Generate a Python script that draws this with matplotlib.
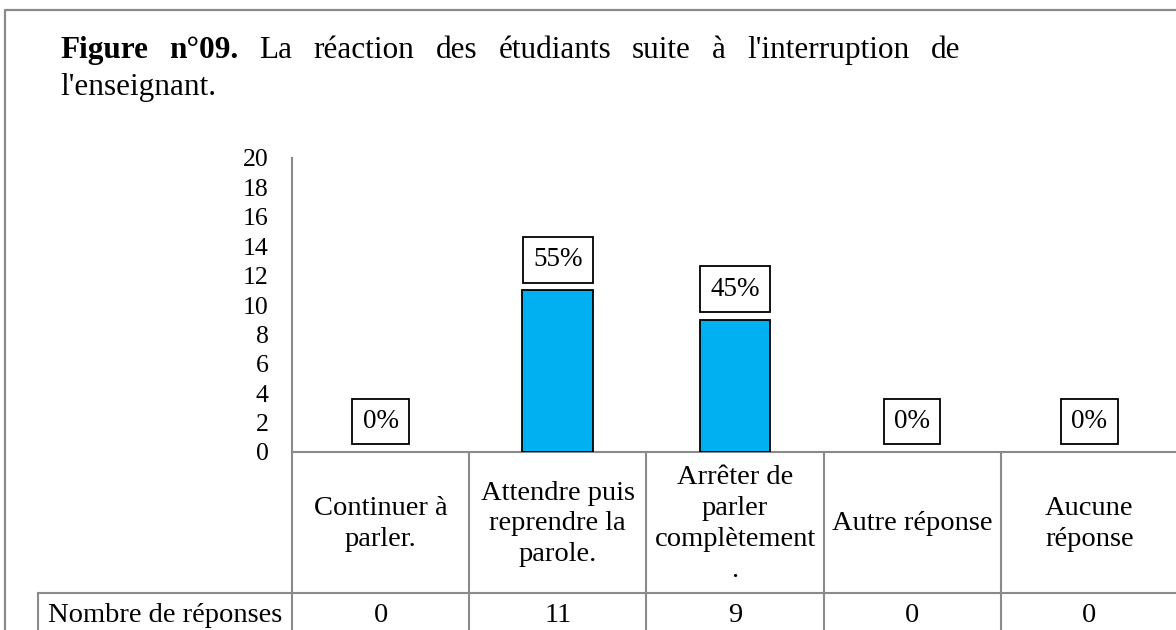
import numpy as np
import matplotlib.pyplot as plt
from matplotlib.lines import Line2D

plt.rcParams['font.family'] = ['Liberation Serif', 'DejaVu Serif']

categories = ["Continuer à\nparler.", "Attendre puis\nreprendre la\nparole.",
              "Arrêter de\nparler\ncomplètement\n.", "Autre réponse", "Aucune\nréponse"]
responses = [0, 11, 9, 0, 0]
percents = ["0%", "55%", "45%", "0%", "0%"]
row_label = "Nombre de réponses"
yticks = list(range(0, 21, 2))

W, H = 1176, 630
fig = plt.figure(figsize=(W / 100, H / 100), dpi=100)

# pixel layout of the plot area
x0, x1 = 292, 1178
y_top, y_zero = 158, 452
y_row, y_bot = 593, 630


def fx(x):
    return x / W


def fy(y):
    return 1 - y / H


def ay(y):
    # pixel row -> axes fraction
    return (y_zero - y) / (y_zero - y_top)


ax = fig.add_axes([fx(x0), fy(y_zero), fx(x1) - fx(x0), fy(y_top) - fy(y_zero)])
n = len(categories)
xpos = np.arange(n)
edges = ["black" if v > 0 else "none" for v in responses]
ax.bar(xpos, responses, width=0.4, color="#00B0F0", edgecolor=edges, linewidth=1.3, zorder=3)
ax.set_xlim(-0.5, n - 0.5)
ax.set_ylim(0, 20)
ax.set_yticks(yticks)
ax.set_xticks([])
ax.tick_params(axis="y", length=0, pad=17, labelsize=18.5)
for s in ["top", "right"]:
    ax.spines[s].set_visible(False)
gray = "#8a8a8a"
ax.spines["left"].set_color(gray)
ax.spines["bottom"].set_color(gray)
ax.spines["left"].set_linewidth(1.5)
ax.spines["bottom"].set_linewidth(1.5)

# percentage labels in boxes
for i, (v, p) in enumerate(zip(responses, percents)):
    ax.annotate(p, (i, v), xytext=(0, 18), textcoords="offset pixels",
                ha="center", va="bottom", fontsize=19.5, zorder=4,
                bbox=dict(boxstyle="square,pad=0.38", fc="white", ec="black", lw=1.3))

# data table under the axis
tr = ax.get_xaxis_transform()
for k in range(n + 1):
    ax.add_line(Line2D([k - 0.5, k - 0.5], [0, ay(y_bot)], transform=tr, color=gray,
                       lw=1.5, clip_on=False))
fig.add_artist(Line2D([fx(38), 1], [fy(y_row), fy(y_row)], color=gray, lw=1.5))
fig.add_artist(Line2D([fx(38), fx(38)], [fy(y_row), 0], color=gray, lw=1.5))

for i, c in enumerate(categories):
    ax.text(i, ay(524), c, transform=tr, ha="center", va="center",
            multialignment="center", fontsize=20.5, linespacing=1.3, clip_on=False)
    ax.text(i, ay(616), str(responses[i]), transform=tr, ha="center", va="center",
            fontsize=20.5, clip_on=False)
fig.text(fx((38 + x0) / 2), fy(616), row_label, ha="center", va="center", fontsize=20.5)

# outer frame
fig.add_artist(Line2D([fx(5), fx(5), 1], [0, fy(10), fy(10)], color=gray, lw=1.6))

# justified title
words = [("Figure", "bold"), ("n°09.", "bold"), ("La", "normal"), ("réaction", "normal"),
         ("des", "normal"), ("étudiants", "normal"), ("suite", "normal"), ("à", "normal"),
         ("l'interruption", "normal"), ("de", "normal")]
t_start, t_end, t_size = 60, 960, 22.5
fig.canvas.draw()
r = fig.canvas.get_renderer()
arts = []
for w, wt in words:
    t = fig.text(0, fy(58), w, fontsize=t_size, fontweight=wt, va="baseline", ha="left")
    arts.append(t)
widths = [a.get_window_extent(r).width for a in arts]
gap = (t_end - t_start - sum(widths)) / (len(words) - 1)
x = t_start
for a, wd in zip(arts, widths):
    a.set_x(fx(x))
    x += wd + gap
fig.text(fx(t_start), fy(95), "l'enseignant.", fontsize=t_size, va="baseline", ha="left")

fig.savefig("out.png", dpi=100)
